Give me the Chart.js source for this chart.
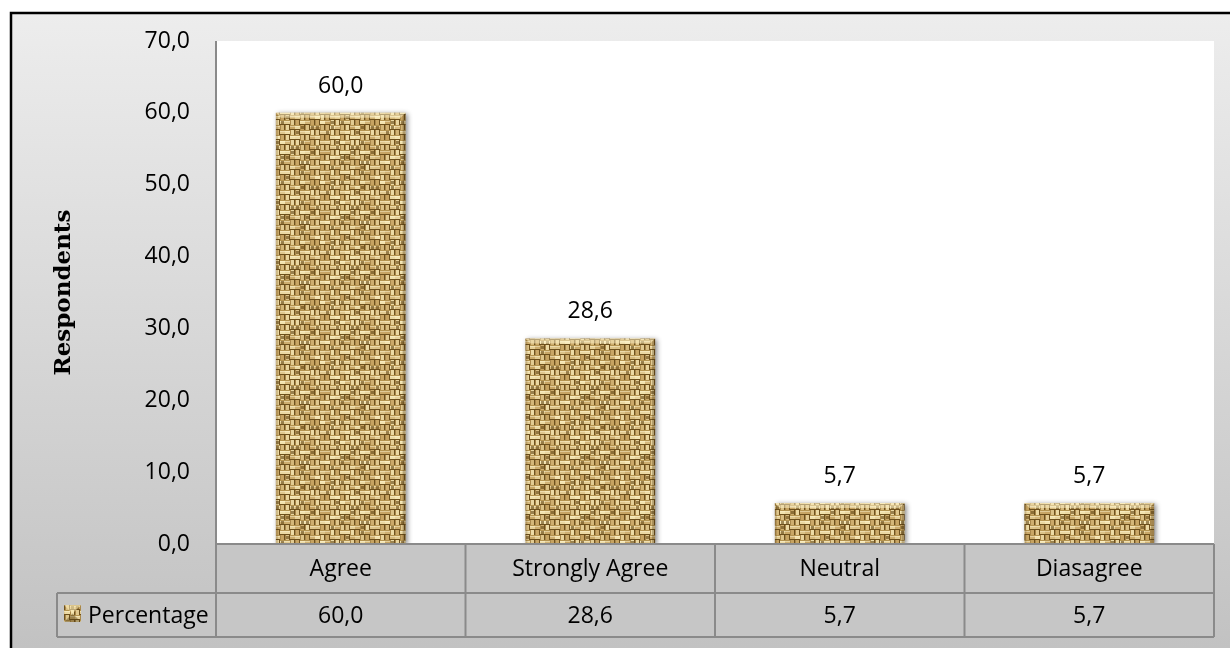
<!DOCTYPE html>
<html>
<head>
<meta charset="utf-8">
<script src="https://cdn.jsdelivr.net/npm/chart.js@4.4.1/dist/chart.umd.min.js"></script>
<style>
  html, body { margin: 0; padding: 0; background: #ffffff; }
  #wrap { width: 1230px; height: 648px; position: relative; }
</style>
</head>
<body>
<div id="wrap"><canvas id="chart" width="1230" height="648"></canvas></div>
<script>
// Survey responses (percentage of respondents)
const categories = ['Agree', 'Strongly Agree', 'Neutral', 'Diasagree'];
const percentages = [60.0, 28.6, 5.7, 5.7];
const seriesName = 'Percentage';
const yTicks = [0, 10, 20, 30, 40, 50, 60, 70];

const FONT = '"Open Sans", "Noto Sans", sans-serif';
const FONT_SIZE = 23;
const fmt = v => v.toFixed(1).replace('.', ',');

// Woven burlap texture used to fill the bars (deterministic shade variation)
function shade(i, j, k) {
  const h = Math.sin(i * 12.9898 + j * 78.233 + k * 37.719) * 43758.5453;
  return h - Math.floor(h);
}
function mix(a, b, t) {
  const r = Math.round(a[0] + (b[0] - a[0]) * t);
  const g = Math.round(a[1] + (b[1] - a[1]) * t);
  const bl = Math.round(a[2] + (b[2] - a[2]) * t);
  return `rgb(${r},${g},${bl})`;
}
function makeBurlap() {
  const cell = 5, N = 12, S = cell * N;
  const c = document.createElement('canvas');
  c.width = S; c.height = S;
  const g = c.getContext('2d');
  g.fillStyle = '#8a6a2e';
  g.fillRect(0, 0, S, S);
  const light1 = [248, 234, 184], light2 = [196, 160, 94];
  for (let i = 0; i < N; i++) {
    for (let j = 0; j < N; j++) {
      const x = i * cell, y = j * cell;
      const t = shade(i, j, 1);
      const horizontalOver = (((i >> 1) + j) % 2) === 0;
      if (horizontalOver) {
        g.fillStyle = mix(light1, light2, t);
        g.fillRect(x, y + 1, cell, 3);
        g.fillStyle = 'rgba(255,248,215,0.45)';
        g.fillRect(x, y + 1, cell, 1);
        g.fillStyle = '#b4934f';
        g.fillRect(x, y, cell, 1);
        g.fillStyle = '#6c4f1c';
        g.fillRect(x, y + 4, cell, 1);
      } else {
        g.fillStyle = mix(light1, light2, 0.2 + t * 0.8);
        g.fillRect(x + 1, y, 3, cell);
        g.fillStyle = '#a8874a';
        g.fillRect(x, y, 1, cell);
        g.fillStyle = '#6e511e';
        g.fillRect(x + 4, y, 1, cell);
      }
      if (shade(i, j, 2) > 0.8) {
        g.fillStyle = 'rgba(100,72,22,0.6)';
        g.fillRect(x + 1, y + 1, 3, 3);
      }
    }
  }
  return c;
}

const ctxMain = document.getElementById('chart').getContext('2d');
const burlap = ctxMain.createPattern(makeBurlap(), 'repeat');

const PLOT = { left: 216, top: 41, right: 1214, bottom: 544 };
const ROW1 = 593, ROW2 = 637, LEGEND_LEFT = 57;

// Frame, gradient background and white plot area
const backdrop = {
  id: 'backdrop',
  beforeDraw(chart) {
    const c = chart.ctx;
    const a = chart.chartArea;
    c.save();
    c.fillStyle = '#ffffff';
    c.fillRect(0, 0, chart.width, chart.height);
    const grd = c.createLinearGradient(0, 12, 0, chart.height);
    grd.addColorStop(0, '#ededed');
    grd.addColorStop(1, '#c2c2c2');
    c.fillStyle = grd;
    c.fillRect(10, 12, chart.width - 10, chart.height - 12);
    c.strokeStyle = '#000000';
    c.lineWidth = 2.5;
    c.beginPath();
    c.moveTo(11, chart.height);
    c.lineTo(11, 13);
    c.lineTo(chart.width, 13);
    c.stroke();
    c.fillStyle = '#ffffff';
    c.fillRect(a.left, a.top, a.right - a.left, a.bottom - a.top);
    c.restore();
  }
};

// Soft drop shadow and bevel on each bar
const barStyle = {
  id: 'barStyle',
  beforeDatasetDraw(chart) {
    const c = chart.ctx;
    c.save();
    c.shadowColor = 'rgba(0,0,0,0.45)';
    c.shadowBlur = 5;
    c.shadowOffsetX = 2;
    c.shadowOffsetY = 1;
  },
  afterDatasetDraw(chart, args) {
    const c = chart.ctx;
    c.restore();
    c.save();
    args.meta.data.forEach(bar => {
      const l = bar.x - bar.width / 2, r = bar.x + bar.width / 2;
      const t = bar.y, b = bar.base;
      const bw = 5;
      c.fillStyle = 'rgba(255,246,205,0.5)';
      c.beginPath();
      c.moveTo(l, t); c.lineTo(r, t); c.lineTo(r - bw, t + bw); c.lineTo(l + bw, t + bw);
      c.closePath(); c.fill();
      c.fillStyle = 'rgba(60,40,5,0.3)';
      c.beginPath();
      c.moveTo(r, t); c.lineTo(r, b); c.lineTo(r - 3, b); c.lineTo(r - 3, t + 3);
      c.closePath(); c.fill();
      c.fillStyle = 'rgba(60,40,5,0.18)';
      c.beginPath();
      c.moveTo(l, t); c.lineTo(l + 2, t + 2); c.lineTo(l + 2, b); c.lineTo(l, b);
      c.closePath(); c.fill();
    });
    c.restore();
  }
};

// Value labels above the bars
const valueLabels = {
  id: 'valueLabels',
  afterDatasetsDraw(chart) {
    const c = chart.ctx;
    const meta = chart.getDatasetMeta(0);
    c.save();
    c.font = FONT_SIZE + 'px ' + FONT;
    c.fillStyle = '#000000';
    c.textAlign = 'center';
    c.textBaseline = 'alphabetic';
    meta.data.forEach((bar, i) => {
      c.fillText(fmt(percentages[i]), bar.x, bar.y - 20);
    });
    c.restore();
  }
};

// Data table beneath the plot: category row and value row with legend key
const dataTable = {
  id: 'dataTable',
  afterDraw(chart) {
    const c = chart.ctx;
    const a = chart.chartArea;
    const xs = chart.scales.x;
    const n = categories.length;
    const colW = (a.right - a.left) / n;
    c.save();
    c.fillStyle = '#c6c6c6';
    c.fillRect(a.left, a.bottom, a.right - a.left, ROW2 - a.bottom);
    c.fillRect(LEGEND_LEFT, ROW1, a.left - LEGEND_LEFT, ROW2 - ROW1);
    c.strokeStyle = '#8a8a8a';
    c.lineWidth = 2;
    c.beginPath();
    c.moveTo(a.left, a.bottom); c.lineTo(a.right, a.bottom);
    c.moveTo(LEGEND_LEFT, ROW1); c.lineTo(a.right, ROW1);
    c.moveTo(LEGEND_LEFT, ROW2); c.lineTo(a.right, ROW2);
    c.moveTo(LEGEND_LEFT, ROW1); c.lineTo(LEGEND_LEFT, ROW2);
    for (let i = 0; i <= n; i++) {
      const x = a.left + i * colW;
      c.moveTo(x, a.bottom); c.lineTo(x, ROW2);
    }
    c.moveTo(a.left, a.top); c.lineTo(a.left, a.bottom);
    c.stroke();

    c.font = FONT_SIZE + 'px ' + FONT;
    c.fillStyle = '#000000';
    c.textAlign = 'center';
    c.textBaseline = 'middle';
    categories.forEach((cat, i) => {
      const x = xs.getPixelForValue(i);
      c.fillText(cat, x, (a.bottom + ROW1) / 2 + 1);
      c.fillText(fmt(percentages[i]), x, (ROW1 + ROW2) / 2 + 1);
    });

    // legend key
    const kx = 64, ky = 605, ks = 17;
    c.fillStyle = burlap;
    c.fillRect(kx, ky, ks, ks);
    c.fillStyle = 'rgba(255,240,190,0.55)';
    c.beginPath(); c.moveTo(kx, ky); c.lineTo(kx + ks, ky); c.lineTo(kx + ks / 2, ky + ks / 2); c.closePath(); c.fill();
    c.fillStyle = 'rgba(80,60,20,0.4)';
    c.beginPath(); c.moveTo(kx, ky + ks); c.lineTo(kx + ks, ky + ks); c.lineTo(kx + ks / 2, ky + ks / 2); c.closePath(); c.fill();
    c.textAlign = 'left';
    c.fillStyle = '#000000';
    c.fillText(seriesName, 88, (ROW1 + ROW2) / 2 + 1);
    c.restore();
  }
};

new Chart(ctxMain, {
  type: 'bar',
  data: {
    labels: categories,
    datasets: [{
      label: seriesName,
      data: percentages,
      backgroundColor: burlap,
      borderWidth: 0,
      categoryPercentage: 1.0,
      barPercentage: 0.52
    }]
  },
  options: {
    responsive: false,
    animation: false,
    devicePixelRatio: 1,
    layout: { padding: { left: 0, top: PLOT.top, right: 1230 - PLOT.right, bottom: 648 - PLOT.bottom } },
    plugins: { legend: { display: false }, tooltip: { enabled: false }, title: { display: false } },
    scales: {
      x: { display: false, offset: true },
      y: {
        min: yTicks[0],
        max: yTicks[yTicks.length - 1],
        afterBuildTicks(scale) { scale.ticks = yTicks.map(v => ({ value: v })); },
        afterFit(scale) { scale.width = PLOT.left; },
        grid: { display: false, drawTicks: false },
        border: { display: false },
        ticks: {
          padding: 26,
          color: '#000000',
          font: { family: FONT, size: FONT_SIZE },
          callback: v => fmt(v)
        },
        title: {
          display: true,
          text: 'Respondents',
          color: '#000000',
          font: { family: '"DejaVu Serif", "Liberation Serif", serif', size: 23, weight: 'bold' },
          padding: { top: 50, bottom: 0 }
        }
      }
    }
  },
  plugins: [backdrop, barStyle, valueLabels, dataTable]
});
</script>
</body>
</html>
